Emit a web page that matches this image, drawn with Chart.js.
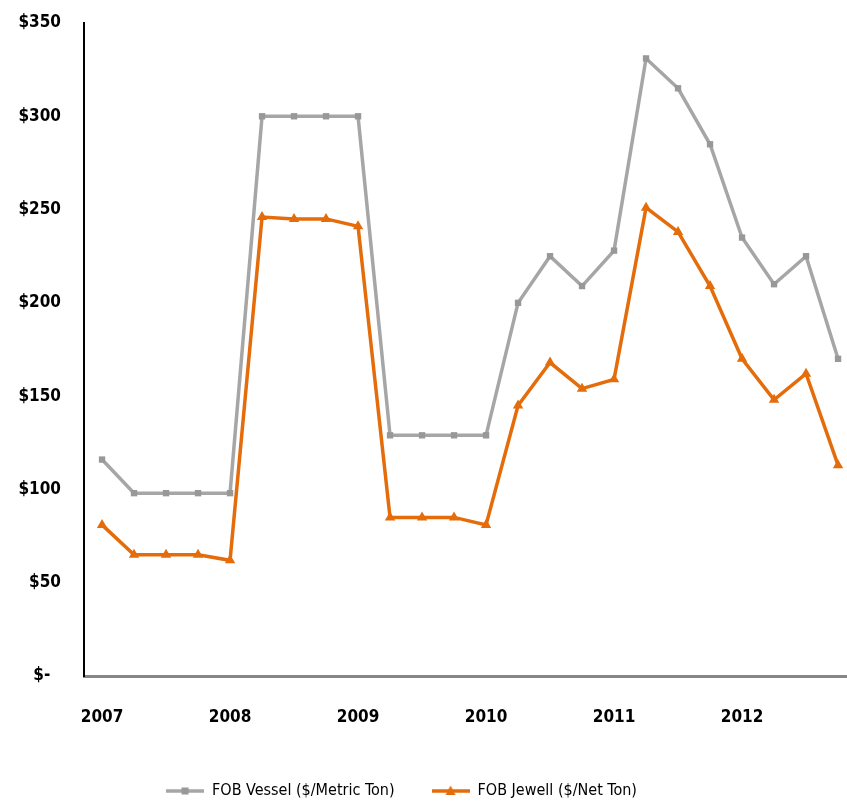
<!DOCTYPE html>
<html>
<head>
<meta charset="utf-8">
<script src="https://cdn.jsdelivr.net/npm/chart.js@4.4.0/dist/chart.umd.min.js"></script>
<style>
  html, body { margin: 0; padding: 0; background: #fff; }
  #wrap { width: 847px; height: 803px; }
</style>
</head>
<body>
<div id="wrap"><canvas id="priceChart" width="847" height="803"></canvas></div>
<script>
// quarters as year fractions, one point per quarter
const quarters = [2007, 2007.25, 2007.5, 2007.75, 2008, 2008.25, 2008.5, 2008.75,
                  2009, 2009.25, 2009.5, 2009.75, 2010, 2010.25, 2010.5, 2010.75,
                  2011, 2011.25, 2011.5, 2011.75, 2012, 2012.25, 2012.5, 2012.75];
const yearTicks = [2007, 2008, 2009, 2010, 2011, 2012];

const vesselLabel = 'FOB Vessel ($/Metric Ton)';
const vesselValues = [116, 98, 98, 98, 98, 300, 300, 300,
                      300, 129, 129, 129, 129, 200, 225, 209,
                      228, 331, 315, 285, 235, 210, 225, 170];

const jewellLabel = 'FOB Jewell ($/Net Ton)';
const jewellValues = [81, 65, 65, 65, 62, 246, 245, 245,
                      241, 85, 85, 85, 81, 145, 168, 154,
                      159, 251, 238, 209, 170, 148, 162, 113];

const yTicks = [0, 50, 100, 150, 200, 250, 300, 350];

const GRAY = '#a6a6a6';
const GRAY_MARK = '#989898';
const ORANGE = '#e46c0a';
const FONT = "'Liberation Sans Narrow', 'DejaVu Sans Condensed', sans-serif";

// little legend swatch: line with marker in the middle
function swatch(color, markColor, shape) {
  const c = document.createElement('canvas');
  c.width = 38; c.height = 12;
  const g = c.getContext('2d');
  g.strokeStyle = color;
  g.lineWidth = 3.5;
  g.beginPath(); g.moveTo(0, 6); g.lineTo(38, 6); g.stroke();
  g.fillStyle = markColor;
  if (shape === 'rect') {
    g.fillRect(15.5, 2.5, 7, 7);
  } else {
    g.beginPath(); g.moveTo(19, 0.5); g.lineTo(24, 10); g.lineTo(14, 10); g.closePath(); g.fill();
  }
  return c;
}

// legend in the original sits a bit left of the page centre
const legendShift = {
  id: 'legendShift',
  afterLayout(chart) {
    chart.legend.left -= 22;
    chart.legend.right -= 22;
  }
};

const toPoints = vals => vals.map((v, i) => ({ x: quarters[i], y: v }));

const ctx = document.getElementById('priceChart').getContext('2d');
new Chart(ctx, {
  type: 'line',
  data: {
    datasets: [{
      label: vesselLabel,
      data: toPoints(vesselValues),
      borderColor: GRAY,
      backgroundColor: GRAY_MARK,
      borderWidth: 3.5,
      pointStyle: 'rect',
      pointRadius: 4.5,
      pointBorderWidth: 0,
      tension: 0
    }, {
      label: jewellLabel,
      data: toPoints(jewellValues),
      borderColor: ORANGE,
      backgroundColor: ORANGE,
      borderWidth: 3.5,
      pointStyle: 'triangle',
      pointRadius: 6,
      pointBorderWidth: 0,
      tension: 0
    }]
  },
  plugins: [legendShift],
  options: {
    responsive: false,
    animation: false,
    layout: { autoPadding: false, padding: { top: 23, left: 0, right: 0, bottom: -6 } },
    plugins: {
      tooltip: { enabled: false },
      legend: {
        position: 'bottom',
        labels: {
          usePointStyle: true,
          pointStyleWidth: 38,
          boxWidth: 38,
          padding: 37,
          color: '#000',
          font: { family: FONT, size: 16 },
          generateLabels: chart => chart.data.datasets.map((ds, i) => ({
            text: ds.label,
            datasetIndex: i,
            fillStyle: ds.borderColor,
            strokeStyle: ds.borderColor,
            lineWidth: 0,
            fontColor: '#000',
            pointStyle: i === 0 ? swatch(GRAY, GRAY_MARK, 'rect') : swatch(ORANGE, ORANGE, 'tri')
          }))
        }
      }
    },
    scales: {
      x: {
        type: 'linear',
        min: 2006.859,
        max: 2012.82,
        afterBuildTicks: axis => { axis.ticks = yearTicks.map(v => ({ value: v })); },
        afterFit: axis => {
          axis.height = 70;
          axis.paddingLeft = 0;
          axis.paddingRight = 0;
        },
        grid: { display: false, drawTicks: false },
        border: { display: true, color: '#878787', width: 3 },
        ticks: {
          padding: 31,
          color: '#000',
          font: { family: FONT, size: 17, weight: 'bold' },
          callback: v => String(v)
        }
      },
      y: {
        min: 0,
        max: 350,
        afterBuildTicks: axis => { axis.ticks = yTicks.map(v => ({ value: v })); },
        afterFit: axis => {
          axis.width = 84;
          axis.paddingTop = 0;
          axis.paddingBottom = 0;
        },
        grid: { display: false, drawTicks: false },
        border: { display: true, color: '#000', width: 2 },
        ticks: {
          padding: 23,
          color: '#000',
          font: { family: FONT, size: 17, weight: 'bold' },
          callback: v => v === 0 ? '$-  ' : '$' + v
        }
      }
    }
  }
});
</script>
</body>
</html>
